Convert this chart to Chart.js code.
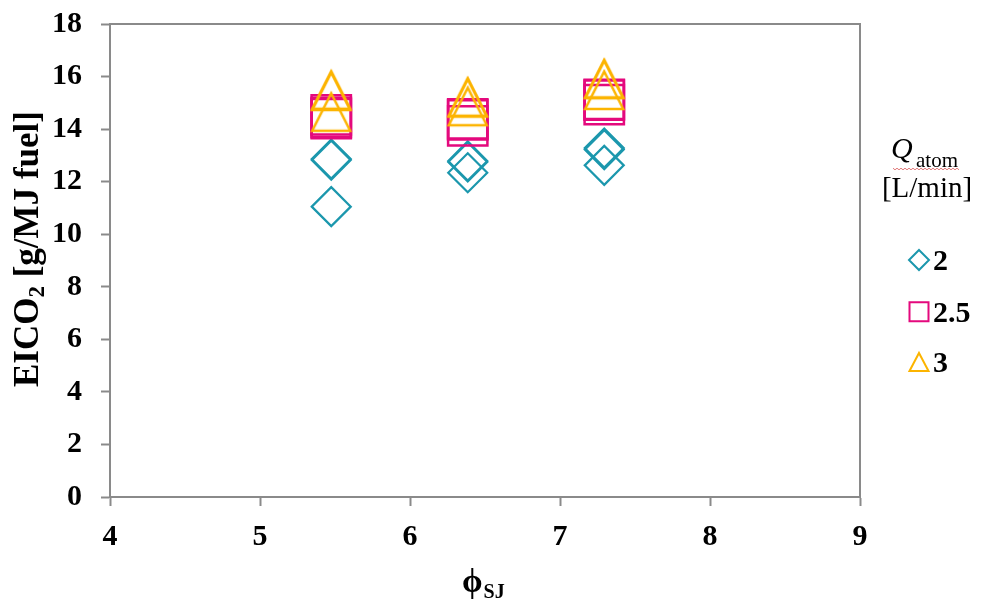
<!DOCTYPE html>
<html>
<head>
<meta charset="utf-8">
<script src="https://cdn.jsdelivr.net/npm/chart.js@4.4.1/dist/chart.umd.min.js"></script>
<style>
  html, body { margin: 0; padding: 0; background: #ffffff; }
  #wrap { width: 983px; height: 608px; }
</style>
</head>
<body>
<div id="wrap"><canvas id="chart" width="983" height="608"></canvas></div>
<script>
// Spray-jet equivalence ratio for each measurement (three repeats per level)
const phiSJ = [5.475, 5.475, 5.475, 6.385, 6.385, 6.385, 7.295, 7.295, 7.295];

// EICO2 [g/MJ fuel] for each atomizing-air flow rate
const eico2Q2  = [12.86, 12.82, 11.05, 12.79, 12.75, 12.34, 13.28, 13.22, 12.62];
const eico2Q25 = [14.54, 14.45, 14.40, 14.39, 14.35, 14.12, 15.13, 15.10, 14.93];
const eico2Q3  = [15.50, 15.45, 14.66, 15.23, 15.20, 14.87, 15.93, 15.90, 15.49];

// Series names (Q_atom in L/min) and axis ticks
const seriesNames = ['2', '2.5', '3'];
const xTicks = [4, 5, 6, 7, 8, 9];
const yTicks = [0, 2, 4, 6, 8, 10, 12, 14, 16, 18];

const TEAL = '#1b97ad';
const MAGENTA = '#e4097d';
const AMBER = '#fcb400';
const AXIS = '#8a8a8a';
const SERIF = '"Liberation Serif", "Times New Roman", serif';

// Open triangle marker drawn into a small canvas and used as a point style
function triangleMarker(size, up, down, half, color, lw) {
  const c = document.createElement('canvas');
  c.width = size; c.height = size;
  const g = c.getContext('2d');
  const m = size / 2;
  g.strokeStyle = color;
  g.lineWidth = lw;
  g.lineJoin = 'miter';
  g.beginPath();
  g.moveTo(m, m - up);
  g.lineTo(m + half, m + down);
  g.lineTo(m - half, m + down);
  g.closePath();
  g.stroke();
  return c;
}
const triImg = triangleMarker(48, 18.5, 19, 19, AMBER, 2.5);

function points(ys) {
  return phiSJ.map((x, i) => ({ x: x, y: ys[i] }));
}

// Frame on top and right of the plot area
const framePlugin = {
  id: 'frame',
  beforeDatasetsDraw(chart) {
    const a = chart.chartArea, ctx = chart.ctx;
    ctx.save();
    ctx.strokeStyle = AXIS;
    ctx.lineWidth = 2;
    ctx.beginPath();
    ctx.moveTo(a.left, a.top);
    ctx.lineTo(a.right, a.top);
    ctx.lineTo(a.right, a.bottom);
    ctx.stroke();
    ctx.restore();
  }
};

// Axis titles with subscripts
const titlesPlugin = {
  id: 'titles',
  afterDraw(chart) {
    const ctx = chart.ctx;
    ctx.save();
    ctx.fillStyle = '#000';
    ctx.textBaseline = 'alphabetic';
    ctx.textAlign = 'left';

    // y title, rotated, reading bottom-to-top
    ctx.save();
    ctx.translate(38, 387);
    ctx.rotate(-Math.PI / 2);
    let x = 0;
    ctx.font = 'bold 35px ' + SERIF;
    ctx.fillText('EICO', x, 0);
    x += ctx.measureText('EICO').width;
    ctx.font = 'bold 23px ' + SERIF;
    ctx.fillText('2', x, 6);
    x += ctx.measureText('2').width;
    ctx.font = 'bold 35px ' + SERIF;
    ctx.fillText(' [g/MJ fuel]', x, 0);
    ctx.restore();

    // x title
    ctx.font = 'bold 33px ' + SERIF;
    ctx.fillText('\u03D5', 462, 592);
    const w = ctx.measureText('\u03D5').width;
    ctx.font = 'bold 20px ' + SERIF;
    ctx.fillText('SJ', 462 + w + 1, 598);
    ctx.restore();
  }
};

// Legend on the right: title plus one marker and label per series
const legendPlugin = {
  id: 'sideLegend',
  afterDraw(chart) {
    const ctx = chart.ctx;
    ctx.save();
    ctx.fillStyle = '#000';
    ctx.textBaseline = 'alphabetic';
    ctx.textAlign = 'left';

    ctx.font = 'italic 30px ' + SERIF;
    ctx.fillText('Q', 891, 158);
    ctx.font = '21px ' + SERIF;
    ctx.fillText('atom', 916, 167);

    // wavy underline
    ctx.strokeStyle = '#e07878';
    ctx.lineWidth = 1;
    ctx.beginPath();
    for (let px = 893, k = 0; px <= 960; px += 2, k++) {
      const py = 169 + (k % 2 ? 1 : -1) * 0.8;
      if (k === 0) ctx.moveTo(px, py); else ctx.lineTo(px, py);
    }
    ctx.stroke();

    ctx.font = '29px ' + SERIF;
    ctx.textAlign = 'center';
    ctx.fillText('[L/min]', 927, 197);

    const ys = [260, 311.7, 362];
    const mx = 919;
    chart.data.datasets.forEach((ds, i) => {
      const cy = ys[i];
      ctx.strokeStyle = ds.borderColor;
      ctx.lineWidth = 2;
      ctx.beginPath();
      if (i === 0) {
        ctx.moveTo(mx, cy - 10);
        ctx.lineTo(mx + 10, cy);
        ctx.lineTo(mx, cy + 10);
        ctx.lineTo(mx - 10, cy);
        ctx.closePath();
      } else if (i === 1) {
        ctx.rect(mx - 9.5, cy - 9.5, 19, 19);
      } else {
        ctx.moveTo(mx, cy - 9);
        ctx.lineTo(mx + 9.5, cy + 9);
        ctx.lineTo(mx - 9.5, cy + 9);
        ctx.closePath();
      }
      ctx.stroke();
      ctx.font = 'bold 30px ' + SERIF;
      ctx.textAlign = 'left';
      ctx.fillText(ds.label, 933, cy + 10);
    });
    ctx.restore();
  }
};

const tickFont = { family: SERIF, size: 30, weight: 'bold', lineHeight: 1.2 };

new Chart(document.getElementById('chart'), {
  type: 'scatter',
  data: {
    datasets: [
      {
        label: seriesNames[0],
        data: points(eico2Q2),
        pointStyle: 'rectRot',
        pointRadius: 19.5,
        borderColor: TEAL,
        backgroundColor: 'rgba(0,0,0,0)',
        borderWidth: 2.2,
        order: 3
      },
      {
        label: seriesNames[1],
        data: points(eico2Q25),
        pointStyle: 'rect',
        pointRadius: 27.8,
        borderColor: MAGENTA,
        backgroundColor: 'rgba(0,0,0,0)',
        borderWidth: 2.5,
        order: 2
      },
      {
        label: seriesNames[2],
        data: points(eico2Q3),
        pointStyle: triImg,
        pointRadius: 20,
        borderColor: AMBER,
        backgroundColor: 'rgba(0,0,0,0)',
        borderWidth: 2.5,
        order: 1
      }
    ]
  },
  options: {
    responsive: false,
    devicePixelRatio: 1,
    animation: false,
    events: [],
    clip: false,
    layout: { autoPadding: false, padding: { top: 24, right: 123, left: 0, bottom: 0 } },
    plugins: {
      legend: { display: false },
      tooltip: { enabled: false }
    },
    scales: {
      x: {
        type: 'linear',
        min: xTicks[0],
        max: xTicks[xTicks.length - 1],
        afterBuildTicks(scale) { scale.ticks = xTicks.map(v => ({ value: v })); },
        afterFit(scale) {
          scale.height = 111;
          scale.paddingLeft = 0; scale.paddingRight = 0;
          scale.paddingTop = 0; scale.paddingBottom = 0;
        },
        grid: { display: true, drawOnChartArea: false, drawTicks: true, tickLength: 9, tickColor: AXIS, tickWidth: 2 },
        border: { display: true, color: AXIS, width: 2 },
        ticks: { font: tickFont, color: '#000', padding: 13, maxRotation: 0 }
      },
      y: {
        type: 'linear',
        min: yTicks[0],
        max: yTicks[yTicks.length - 1],
        afterBuildTicks(scale) { scale.ticks = yTicks.map(v => ({ value: v })); },
        afterFit(scale) {
          scale.width = 110;
          scale.paddingLeft = 0; scale.paddingRight = 0;
          scale.paddingTop = 0; scale.paddingBottom = 0;
        },
        grid: { display: true, drawOnChartArea: false, drawTicks: true, tickLength: 9, tickColor: AXIS, tickWidth: 2 },
        border: { display: true, color: AXIS, width: 2 },
        ticks: { font: tickFont, color: '#000', padding: 19 }
      }
    }
  },
  plugins: [framePlugin, titlesPlugin, legendPlugin]
});
</script>
</body>
</html>
